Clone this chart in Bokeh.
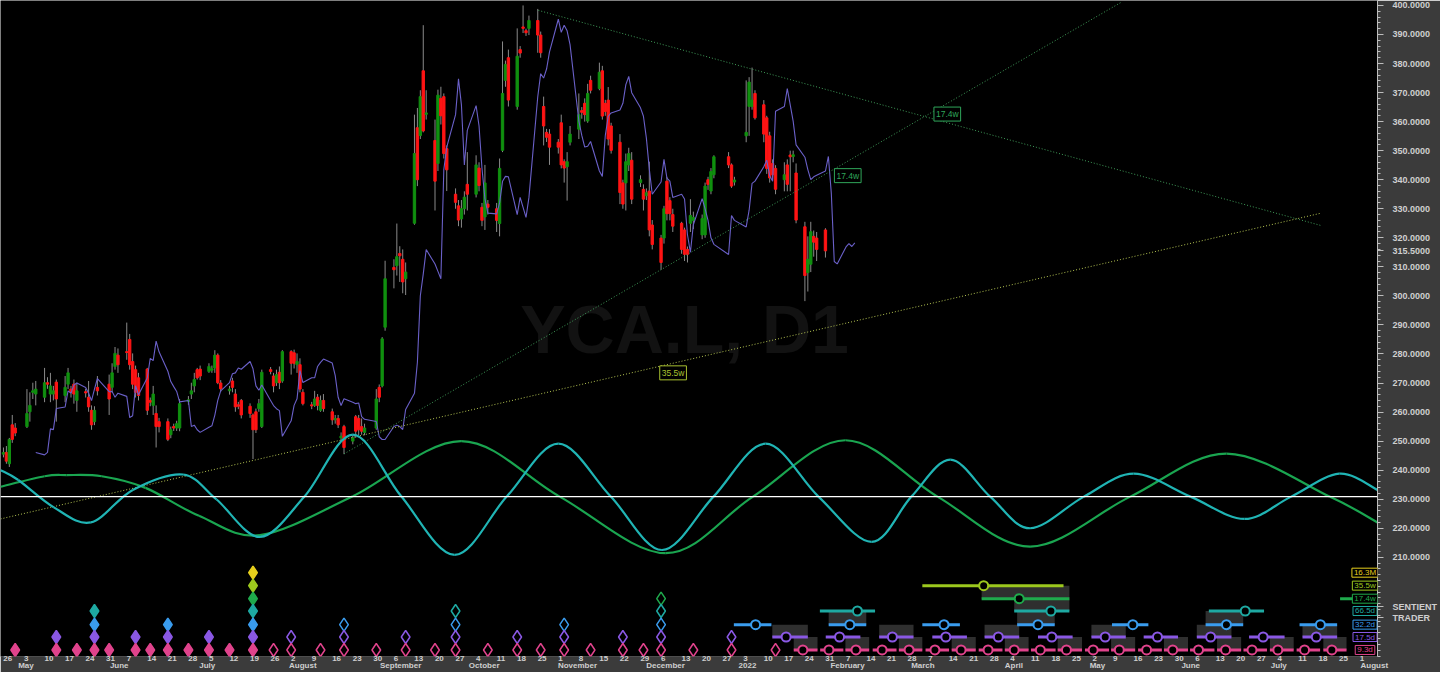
import pandas as pd
from bokeh.plotting import figure
from bokeh.models import Range1d, LinearAxis, FixedTicker, Label, Span
from bokeh.core.properties import value
from bokeh.embed import file_html
from bokeh.resources import INLINE

ORIGIN = pd.Timestamp("2021-04-26")


def days(seq):
    return [(pd.Timestamp(s) - ORIGIN).days for s in seq]


# ---------------- daily candles (YCA.L) : date open high low close ----------------
candle_rows = """
2021-04-26 245.5 247.8 244.4 246.1
2021-04-27 246.1 248.3 242.2 243.1
2021-04-28 242.2 251.1 241.1 250.6
2021-04-29 255.6 259.0 249.4 250.6
2021-04-30 254.5 256.2 251.7 252.8
2021-05-04 255.0 267.9 254.5 259.5
2021-05-05 260.1 266.8 256.7 262.3
2021-05-06 266.8 270.1 264.5 267.3
2021-05-07 266.2 270.7 262.3 267.9
2021-05-10 265.1 275.2 263.4 270.1
2021-05-11 270.1 272.0 268.0 269.6
2021-05-12 266.2 273.5 263.4 269.0
2021-05-13 266.2 269.0 264.0 267.3
2021-05-14 270.3 271.2 256.7 264.5
2021-05-17 265.7 272.4 263.4 268.5
2021-05-18 269.6 275.2 267.9 273.5
2021-05-19 267.9 269.0 265.0 266.8
2021-05-20 269.6 271.2 262.9 266.2
2021-05-21 264.0 270.1 260.1 267.3
2021-05-24 267.0 268.0 265.0 266.6
2021-05-25 265.1 270.7 260.1 261.8
2021-05-26 260.6 262.3 253.9 255.6
2021-05-27 256.7 262.0 255.5 260.6
2021-05-28 268.5 272.4 265.7 267.3
2021-06-01 269.6 272.9 259.0 264.5
2021-06-02 268.5 276.8 266.8 273.5
2021-06-03 275.7 282.4 274.6 280.2
2021-06-04 279.6 281.9 273.5 276.3
2021-06-07 280.8 290.8 278.0 280.5
2021-06-08 285.0 286.9 274.6 276.3
2021-06-09 277.4 280.2 267.9 269.6
2021-06-10 274.6 276.0 265.0 266.8
2021-06-11 271.8 273.5 264.0 265.7
2021-06-14 274.8 275.2 259.0 260.6
2021-06-15 264.0 265.0 262.0 263.4
2021-06-16 262.3 269.0 259.0 266.2
2021-06-17 259.5 262.3 247.8 255.0
2021-06-18 256.7 258.0 253.0 255.0
2021-06-21 256.7 257.8 250.0 250.6
2021-06-22 252.2 255.0 251.0 253.9
2021-06-23 255.0 256.0 253.5 254.5
2021-06-24 254.5 257.0 253.5 256.0
2021-06-25 254.5 264.5 253.4 262.9
2021-06-28 263.6 265.5 262.5 264.2
2021-06-29 266.2 270.1 264.5 267.3
2021-06-30 269.0 273.5 266.8 271.2
2021-07-01 274.6 275.2 271.2 271.8
2021-07-02 274.8 276.0 271.0 272.4
2021-07-05 274.0 276.8 273.5 275.7
2021-07-06 274.4 276.0 273.5 274.9
2021-07-07 275.2 281.3 273.5 279.6
2021-07-08 279.6 280.2 269.6 270.1
2021-07-09 270.0 271.0 267.0 268.0
2021-07-12 267.3 269.0 266.0 267.9
2021-07-13 270.7 271.8 266.8 268.5
2021-07-14 266.2 267.9 260.1 261.8
2021-07-15 262.5 263.5 261.0 262.0
2021-07-16 264.0 264.5 257.8 259.0
2021-07-19 262.0 263.0 258.0 259.5
2021-07-20 259.0 259.5 243.8 253.9
2021-07-21 260.1 261.2 252.8 253.9
2021-07-22 261.2 264.5 260.1 262.9
2021-07-23 255.0 274.6 254.5 273.7
2021-07-26 274.6 275.5 273.0 274.0
2021-07-27 272.4 273.5 266.8 269.0
2021-07-28 270.1 274.6 269.0 272.9
2021-07-29 273.7 275.7 267.9 270.1
2021-07-30 270.7 281.3 270.1 280.8
2021-08-02 280.8 281.3 272.9 276.8
2021-08-03 280.4 281.5 275.0 276.8
2021-08-04 276.3 280.2 273.5 277.4
2021-08-05 276.3 278.5 266.8 267.9
2021-08-06 266.8 267.9 262.3 262.9
2021-08-09 262.5 263.5 261.0 262.1
2021-08-10 262.3 267.3 261.8 264.5
2021-08-11 265.1 266.2 260.6 262.3
2021-08-12 260.6 265.7 260.1 264.0
2021-08-13 264.0 266.2 260.1 261.2
2021-08-16 260.1 261.2 255.6 257.3
2021-08-17 257.3 259.0 256.0 257.8
2021-08-18 257.8 259.0 254.5 255.6
2021-08-19 251.1 253.0 250.0 251.7
2021-08-20 255.0 255.6 245.5 247.8
2021-08-23 250.0 252.2 248.9 251.1
2021-08-24 258.4 259.0 251.1 253.4
2021-08-25 257.8 259.0 252.0 253.9
2021-08-26 255.0 257.8 252.2 253.4
2021-08-27 253.0 256.0 252.0 254.5
2021-08-31 254.5 267.9 253.9 264.5
2021-09-01 268.5 269.5 263.4 265.1
2021-09-02 269.0 285.8 268.5 285.2
2021-09-03 289.2 312.1 288.0 305.9
2021-09-06 309.8 312.6 302.6 309.0
2021-09-07 310.4 324.9 307.0 313.5
2021-09-08 314.6 317.1 304.8 313.8
2021-09-09 312.6 316.0 300.9 304.8
2021-09-10 305.9 311.5 300.3 308.2
2021-09-13 325.0 362.4 324.5 349.0
2021-09-14 357.9 364.7 337.8 340.0
2021-09-15 355.2 370.8 354.0 368.6
2021-09-16 377.5 393.2 356.3 356.8
2021-09-17 362.5 370.8 360.7 363.0
2021-09-20 353.5 360.7 329.4 339.5
2021-09-21 345.6 371.0 343.0 369.1
2021-09-22 368.0 372.0 359.0 362.0
2021-09-23 368.6 369.7 347.3 349.0
2021-09-24 350.7 351.8 336.1 343.4
2021-09-27 335.0 337.0 330.0 332.2
2021-09-28 331.0 333.0 324.0 326.1
2021-09-29 326.5 333.0 323.5 330.0
2021-09-30 330.0 336.0 328.0 334.0
2021-10-01 338.4 349.5 329.4 335.0
2021-10-04 335.0 348.4 333.9 345.1
2021-10-05 344.0 346.0 336.0 338.0
2021-10-06 330.5 332.0 324.0 326.0
2021-10-07 327.2 345.1 322.7 338.9
2021-10-08 331.6 333.0 328.0 330.5
2021-10-11 330.0 332.0 322.0 326.0
2021-10-12 324.9 347.3 320.5 343.9
2021-10-13 350.1 387.6 349.5 369.7
2021-10-14 374.2 381.0 372.0 379.7
2021-10-15 382.0 384.8 365.2 367.4
2021-10-18 365.2 392.1 364.1 382.5
2021-10-19 384.8 386.0 382.0 383.6
2021-10-20 392.6 400.0 390.5 392.1
2021-10-21 391.3 392.0 389.5 390.6
2021-10-22 392.1 396.5 389.8 394.8
2021-10-25 394.8 398.8 383.7 389.8
2021-10-26 389.8 391.0 382.0 383.7
2021-10-27 365.2 368.6 351.8 358.5
2021-10-28 356.3 357.5 353.0 354.6
2021-10-29 355.7 357.4 345.1 351.2
2021-11-01 352.9 354.0 349.0 351.2
2021-11-02 359.6 362.4 343.9 345.1
2021-11-03 346.2 347.0 339.0 344.0
2021-11-04 344.5 349.5 332.8 346.2
2021-11-05 352.9 358.5 351.8 355.7
2021-11-08 357.4 369.7 354.0 362.4
2021-11-09 363.8 365.0 361.0 363.2
2021-11-10 366.3 368.0 360.0 362.4
2021-11-11 360.2 373.0 359.6 369.7
2021-11-12 374.2 375.8 369.7 370.8
2021-11-15 371.4 380.3 370.8 377.0
2021-11-16 377.5 379.2 360.7 361.9
2021-11-17 366.3 367.5 362.0 363.5
2021-11-18 367.4 371.9 351.8 354.0
2021-11-19 358.5 359.6 349.0 350.1
2021-11-22 352.9 355.7 331.6 335.6
2021-11-23 338.9 340.0 330.0 331.6
2021-11-24 338.9 349.0 329.4 346.2
2021-11-25 345.1 351.0 343.0 349.0
2021-11-26 346.7 349.5 331.6 333.3
2021-11-29 339.0 341.5 337.5 340.0
2021-11-30 336.7 338.4 329.4 333.3
2021-12-01 334.5 337.0 333.0 335.5
2021-12-02 336.1 346.2 320.5 322.7
2021-12-03 324.4 326.1 316.0 317.7
2021-12-06 319.9 321.0 309.0 311.5
2021-12-07 319.9 331.0 318.0 330.0
2021-12-08 339.5 341.0 326.0 328.3
2021-12-09 332.8 334.0 326.0 328.3
2021-12-10 328.0 330.0 322.0 324.0
2021-12-13 325.0 325.5 314.5 316.0
2021-12-14 322.7 323.5 312.0 314.3
2021-12-15 316.0 317.0 311.5 314.3
2021-12-16 325.0 333.3 322.0 327.7
2021-12-17 326.0 329.0 323.0 327.0
2021-12-20 321.0 328.0 319.5 326.6
2021-12-21 321.0 339.0 320.0 337.8
2021-12-22 340.0 341.0 336.5 338.4
2021-12-23 336.1 344.0 335.0 342.8
2021-12-24 341.7 348.4 340.5 347.9
2021-12-29 347.9 349.5 344.0 345.1
2021-12-30 345.1 345.6 337.2 337.8
2021-12-31 339.2 341.0 338.0 339.9
2022-01-04 355.1 374.2 352.9 356.3
2022-01-05 365.2 375.3 355.1 373.6
2022-01-06 365.2 378.6 364.1 367.4
2022-01-07 369.7 370.8 360.7 361.3
2022-01-10 365.8 367.4 352.9 355.7
2022-01-11 361.3 362.0 342.0 343.9
2022-01-12 355.1 356.5 339.0 340.6
2022-01-13 345.6 347.0 340.0 341.7
2022-01-14 343.9 345.0 335.0 336.7
2022-01-17 340.0 346.0 336.0 341.7
2022-01-18 345.1 347.0 336.0 338.4
2022-01-19 348.5 350.0 336.0 347.9
2022-01-20 348.0 350.0 346.0 348.6
2022-01-21 342.3 345.6 325.0 326.1
2022-01-24 323.8 325.5 298.2 307.0
2022-01-25 308.0 320.5 301.5 312.6
2022-01-26 310.9 325.5 308.2 322.1
2022-01-27 320.5 322.5 313.5 318.5
2022-01-28 319.9 322.0 312.0 316.0
2022-01-31 322.7 323.3 313.2 315.5
"""
_rows = [r.split() for r in candle_rows.strip().splitlines()]
candle_dates = [r[0] for r in _rows]
opens = [float(r[1]) for r in _rows]
highs = [float(r[2]) for r in _rows]
lows = [float(r[3]) for r in _rows]
closes = [float(r[4]) for r in _rows]
last_price = 315.5
fld_shift_bars = 8

# ---------------- cycle components (day offset, price) ----------------
teal_x = [-1.01, 5.04, 17.15, 29.76, 44.05, 61.2, 72.6, 87.4, 102.6, 119.0, 135.5, 153.7, 171.5,
          189.0, 206.8, 224.3, 241.8, 259.6, 277.7, 295.7, 309.2, 322.5, 336.2, 349.7, 367.9,
          385.0, 404.5, 422.7, 438.5, 455.0, 468.05]
teal_y = [240.0, 236.6, 227.2, 222.0, 233.2, 238.5, 229.9, 217.0, 231.0, 252.2, 231.0, 210.8, 231.0,
          249.1, 231.0, 212.5, 230.8, 249.1, 230.8, 215.3, 230.8, 243.6, 230.8, 220.0, 230.8,
          238.8, 230.8, 223.2, 230.8, 238.8, 233.2]
green_x = [-1.01, 14.0, 21.5, 33.5, 48.4, 66.6, 87.4, 119.0, 155.9, 189.6, 225.6, 255.2, 286.8,
           318.3, 349.7, 383.7, 416.6, 451.9, 468.05]
green_y = [234.3, 237.9, 238.3, 237.9, 233.9, 224.3, 217.6, 231.0, 250.0, 230.8, 211.4, 230.8, 250.3,
           230.8, 213.7, 230.8, 245.7, 230.8, 222.0]
zero_line = 230.9

# ---------------- trend lines ----------------
down_174_x = [182.2, 448.9]
down_174_y = [398.3, 324.2]
up_174_x = [116.0, 380.6]
up_174_y = [245.6, 401.0]
up_355_x = [-1.0, 448.9]
up_355_y = [223.2, 328.5]

# ---------------- cycle troughs (diamonds) ----------------
confirmed_until = "2021-07-20"
troughs_93d = ["2021-04-30", "2021-05-14", "2021-05-21", "2021-05-27", "2021-06-01", "2021-06-10",
               "2021-06-15", "2021-06-21", "2021-06-28", "2021-07-05", "2021-07-12", "2021-07-20",
               "2021-07-27", "2021-08-02", "2021-08-12", "2021-08-20", "2021-08-31", "2021-09-10",
               "2021-09-20", "2021-09-27", "2021-10-08", "2021-10-18", "2021-10-26", "2021-11-03",
               "2021-11-12", "2021-11-23", "2021-11-30", "2021-12-06", "2021-12-17", "2021-12-30",
               "2022-01-14"]
troughs_175d = ["2021-05-14", "2021-05-27", "2021-06-10", "2021-06-21", "2021-07-05", "2021-07-20",
                "2021-08-02", "2021-08-20", "2021-09-10", "2021-09-27", "2021-10-18", "2021-11-03",
                "2021-11-23", "2021-12-06", "2021-12-30"]
troughs_322d = ["2021-05-27", "2021-06-21", "2021-07-20", "2021-08-20", "2021-09-27", "2021-11-03",
                "2021-12-06"]
troughs_665d = ["2021-05-27", "2021-07-20", "2021-09-27", "2021-12-06"]
troughs_174w = ["2021-07-20", "2021-12-06"]
troughs_355w = ["2021-07-20"]
troughs_163m = ["2021-07-20"]

# ---------------- projected troughs (start, centre, end in day offsets) ----------------
proj_355w = [(313.0, 333.9, 361.1)]
proj_174w = [(333.2, 346.0, 363.1)]
proj_174w_next = [(455.3, 461.0)]
proj_665d = [(278.1, 290.9, 296.9), (344.3, 356.8, 363.1), (410.6, 423.0, 429.4)]
proj_322d = [(248.8, 256.2, 261.6), (281.1, 288.3, 293.9), (313.0, 320.4, 325.8), (345.3, 352.4, 358.1),
             (377.6, 384.7, 390.0), (409.5, 416.6, 422.3), (441.5, 448.6, 454.3)]
proj_175d = [(261.9, 266.6, 274.0), (280.1, 284.8, 291.9), (298.3, 302.8, 310.0), (316.4, 321.0, 328.2),
             (334.2, 338.9, 346.0), (352.4, 357.1, 364.2), (370.6, 375.3, 382.3), (388.4, 393.1, 400.1),
             (406.5, 411.2, 418.3), (424.3, 429.1, 436.4), (442.5, 447.2, 454.3)]
proj_93d = [(269.2, 272.3, 277.3), (278.2, 281.2, 286.1), (286.8, 290.4, 294.9), (296.1, 299.3, 304.2),
            (305.0, 308.5, 313.0), (314.1, 317.3, 322.1), (323.0, 326.2, 331.2), (332.2, 335.4, 340.3),
            (341.1, 344.3, 349.2), (350.0, 353.2, 358.4), (359.1, 362.1, 367.4), (368.4, 371.2, 376.6),
            (377.3, 380.1, 385.5), (386.5, 389.4, 394.6), (395.3, 398.3, 403.5), (404.2, 407.1, 412.5),
            (413.4, 416.3, 421.6), (422.4, 425.3, 430.4), (431.4, 434.1, 439.5), (440.5, 443.2, 448.5),
            (449.6, 452.5, 457.5)]

cycle_names = ["16.3M", "35.5w", "17.4w", "66.5d", "32.2d", "17.5d", "9.3d"]
cycle_colors = ["#e6cf1c", "#9cc81e", "#1faa4c", "#1ea9a2", "#3a9cee", "#8a58e4", "#e0438c"]
row_levels = [204.7, 200.24, 195.74, 191.51, 186.81, 182.55, 178.09]

# axis texts
price_ticks = list(range(210, 401, 10))
brand_text = [(193.0, "SENTIENT"), (189.2, "TRADER")]

# ---------------- figure ----------------
X0, X1 = -1.01, 468.05
p = figure(width=1440, height=672, x_range=Range1d(X0, X1), y_range=Range1d(175.84, 401.7),
           x_axis_type=None, y_axis_type=None, toolbar_location=None, output_backend="svg",
           background_fill_color="black", border_fill_color="#3b3b3b", outline_line_color=None,
           min_border_left=0, min_border_top=0, min_border_right=60, min_border_bottom=0)

# watermark
p.text(x=[232.0], y=[288.6], text=["YCA.L, D1"], text_font=value("Liberation Sans"),
       text_font_style="bold", text_font_size="68px", text_color="#121212",
       text_align="center", text_baseline="middle")


# gray boxes of the projection bars
def box(x0, x1, y0, y1):
    p.quad(left=[x0], right=[x1], bottom=[y0], top=[y1], fill_color="#2f2f2f", line_color=None)


for i, (a, c, b) in enumerate(proj_175d):
    if i % 2 == 0:
        box(a, b, row_levels[5], row_levels[4])
for i, (a, c, b) in enumerate(proj_93d):
    if i % 2 == 0:
        box(a, b, row_levels[6], row_levels[5])
for i, (a, c, b) in enumerate(proj_322d):
    if i % 2 == 1:
        box(a, b, row_levels[4], row_levels[3])
box(proj_665d[1][0], proj_665d[1][2], row_levels[3], row_levels[2])
box(proj_174w[0][0], proj_174w[0][2], row_levels[2], row_levels[1])

# candles
cx = days(candle_dates)
p.segment(x0=cx, y0=lows, x1=cx, y1=highs, line_color="#8a8a8a", line_width=1)
body_col = ["#10900f" if c >= o else "#ff1414" for o, c in zip(opens, closes)]
p.vbar(x=cx, width=0.8, top=[max(o, c) for o, c in zip(opens, closes)],
       bottom=[min(o, c) for o, c in zip(opens, closes)], fill_color=body_col, line_color=body_col,
       line_width=1)

# FLD (median price displaced forward)
future = pd.bdate_range(pd.Timestamp(candle_dates[-1]) + pd.Timedelta(days=1), periods=fld_shift_bars)
all_x = cx + [(d - ORIGIN).days for d in future]
mids = [(h + l) / 2 for h, l in zip(highs, lows)]
p.line(x=all_x[fld_shift_bars:fld_shift_bars + len(mids)], y=mids, line_color="#6a60c8", line_width=1.1)

# trend lines
p.line(x=down_174_x, y=down_174_y, line_color="#3f9a58", line_width=1, line_dash="1 2")
p.line(x=up_174_x, y=up_174_y, line_color="#3f9a58", line_width=1, line_dash="1 2")
p.line(x=up_355_x, y=up_355_y, line_color="#b4c452", line_width=1, line_dash="1 2")

# white zero line
p.add_layout(Span(location=zero_line, dimension="width", line_color="white", line_width=1.2))


def bezier_from(xs, ys, color):
    n = len(xs)
    d = dict(x0=[], y0=[], x1=[], y1=[], cx0=[], cy0=[], cx1=[], cy1=[])
    for i in range(n - 1):
        a = max(i - 1, 0)
        b = min(i + 2, n - 1)
        d["x0"].append(xs[i]); d["y0"].append(ys[i])
        d["x1"].append(xs[i + 1]); d["y1"].append(ys[i + 1])
        d["cx0"].append(xs[i] + (xs[i + 1] - xs[a]) / 6)
        d["cy0"].append(ys[i] + (ys[i + 1] - ys[a]) / 6)
        d["cx1"].append(xs[i + 1] - (xs[b] - xs[i]) / 6)
        d["cy1"].append(ys[i + 1] - (ys[b] - ys[i]) / 6)
    p.bezier(line_color=color, line_width=2.2, **d)


bezier_from(green_x, green_y, "#1aa550")
bezier_from(teal_x, teal_y, "#20b4b4")


# trend-line labels
def tag(x, y, text, color, size="8.5px"):
    p.add_layout(Label(x=x, y=y, text=text, text_color=color, text_font="Liberation Sans",
                       text_font_size=size, text_align="center", text_baseline="middle",
                       background_fill_color="black", border_line_color=color, padding=2))


tag(321.5, 362.6, "17.4w", "#2fa55a")
tag(287.6, 341.4, "17.4w", "#2fa55a")
tag(228.1, 273.5, "35.5w", "#a8c030")

# diamonds
trough_sets = [troughs_163m, troughs_355w, troughs_174w, troughs_665d, troughs_322d, troughs_175d, troughs_93d]
cut = (pd.Timestamp(confirmed_until) - ORIGIN).days
for dates_, col, lvl in zip(trough_sets, cycle_colors, row_levels):
    xs = days(dates_)
    fills = [col if x <= cut else "black" for x in xs]
    p.scatter(x=xs, y=[lvl] * len(xs), marker="diamond", size=13, fill_color=fills,
              line_color=col, line_width=1.5)

# projection bars
proj_sets = [[], proj_355w, proj_174w, proj_665d, proj_322d, proj_175d, proj_93d]
for bars, col, lvl in zip(proj_sets, cycle_colors, row_levels):
    if not bars:
        continue
    p.segment(x0=[b[0] for b in bars], y0=[lvl] * len(bars), x1=[b[2] for b in bars], y1=[lvl] * len(bars),
              line_color=col, line_width=3)
    p.scatter(x=[b[1] for b in bars], y=[lvl] * len(bars), marker="circle", size=9,
              fill_color="black", line_color=col, line_width=2)
p.segment(x0=[b[0] for b in proj_174w_next], y0=[row_levels[2]], x1=[b[1] for b in proj_174w_next],
          y1=[row_levels[2]], line_color=cycle_colors[2], line_width=3)

# legend boxes
for name, col, lvl in zip(cycle_names, cycle_colors, row_levels):
    p.add_layout(Label(x=463.8, y=lvl, text=name, text_color=col, text_font="Liberation Sans",
                       text_font_size="8px", text_align="center", text_baseline="middle",
                       background_fill_color="black", border_line_color=col, padding=dict(x=2, y=0)))

# ---------------- axes ----------------
y_ticks = price_ticks + [last_price] + [b[0] for b in brand_text]
y_over = {float(t): "%.4f" % t for t in price_ticks}
y_over[float(last_price)] = "%.4f" % last_price
for yy, txt in brand_text:
    y_over[float(yy)] = txt
yax = LinearAxis(ticker=FixedTicker(ticks=[float(t) for t in y_ticks], minor_ticks=list(range(176, 401, 2))),
                 major_label_overrides=y_over)
yax.axis_line_color = "#bdbdbd"
yax.major_tick_line_color = "#bdbdbd"
yax.minor_tick_line_color = "#bdbdbd"
yax.major_tick_out = 6
yax.major_tick_in = 0
yax.minor_tick_out = 3
yax.minor_tick_in = 0
yax.major_label_standoff = 9
yax.major_label_text_color = "#cfcfcf"
yax.major_label_text_font = "Liberation Sans"
yax.major_label_text_font_style = "bold"
yax.major_label_text_font_size = "9px"
p.add_layout(yax, "right")

mondays = pd.date_range("2021-04-26", "2022-08-01", freq="7D")
day_ticks = []
day_over = {}
for m in mondays:
    lab = str(m.day)
    t = round((m - ORIGIN).days + len(lab) * 0.74, 3)
    day_ticks.append(t)
    day_over[t] = lab

month_starts = ["2021-05-01", "2021-06-01", "2021-07-01", "2021-08-01", "2021-09-01", "2021-10-01",
                "2021-11-01", "2021-12-01", "2022-01-01", "2022-02-01", "2022-03-01", "2022-04-01",
                "2022-05-01", "2022-06-01", "2022-07-01", "2022-08-01"]
month_names = ["May", "June", "July", "August", "September", "October", "November", "December", "2022",
               "February", "March", "April", "May", "June", "July", "August"]
m_ticks = []
m_over = {}
for s, name in zip(month_starts, month_names):
    t = round(days([s])[0] + (1 + len(name) * 2.3) / 2.974, 3)
    m_ticks.append(t)
    m_over[t] = name


def bottom_axis(ticks, over, standoff):
    ax = LinearAxis(ticker=FixedTicker(ticks=ticks, minor_ticks=[]), major_label_overrides=over)
    ax.axis_line_color = None
    ax.major_tick_line_color = None
    ax.minor_tick_line_color = None
    ax.major_tick_out = 0
    ax.major_tick_in = 0
    ax.minor_tick_out = 0
    ax.minor_tick_in = 0
    ax.major_label_standoff = standoff
    ax.major_label_text_color = "#cfcfcf"
    ax.major_label_text_font = "Liberation Sans"
    ax.major_label_text_font_style = "bold"
    ax.major_label_text_font_size = "8px"
    ax.major_label_text_line_height = 1.0
    p.add_layout(ax, "below")


bottom_axis(day_ticks, day_over, -1)
bottom_axis(m_ticks, m_over, -3)

open("out.html", "w").write(file_html(p, INLINE))
